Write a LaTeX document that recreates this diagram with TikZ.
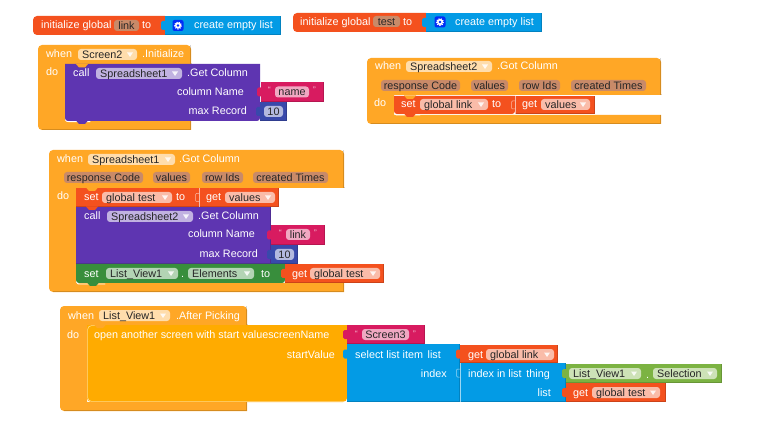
\documentclass[tikz,border=0pt]{standalone}
\usepackage{fontspec}
\setmainfont{Liberation Sans}
\definecolor{cRed}{HTML}{F4511E}
\definecolor{cBlue}{HTML}{039BE5}
\definecolor{cAmber}{HTML}{FFA726}
\definecolor{cOpen}{HTML}{FFAB00}
\definecolor{cPurple}{HTML}{5E35B1}
\definecolor{cPink}{HTML}{D81B60}
\definecolor{cNum}{HTML}{3949AB}
\definecolor{cGreen}{HTML}{388E3C}
\definecolor{cLime}{HTML}{7CB342}
\definecolor{cParam}{HTML}{C98A68}
\definecolor{cInk}{HTML}{262626}
\tikzset{
  lbl/.style={inner sep=0pt,text=white,font=\fontsize{10.8}{12}\selectfont},
  ink/.style={lbl,text=cInk},
  quot/.style={inner sep=0pt,text=white,text opacity=.8,font=\fontsize{8}{9}\selectfont},
  seam/.style={white,line width=.5pt,opacity=.6},
  edge/.style={black,line width=.8pt,opacity=.16},
}
% block: colour x1 y1 x2 y2
\newcommand\blk[5]{\fill[#1] (#2,#3) rectangle (#4,#5);
  \draw[edge] (#2,{#5-.4}) -- ({#4-.4},{#5-.4}) -- ({#4-.4},#3);}
% text: name anchor x ycentre text
\newcommand\tx[5]{\node[lbl,anchor=base #2] (#1) at (#3,{#4+4}) {#5};}
% quote mark: name x ycentre text
\newcommand\qt[4]{\node[quot,anchor=base west] (#1) at (#2,{#3+3}) {#4};}
% field pill: name x1 x2 yc text (with dropdown triangle)
\newcommand\pill[5]{%
  \fill[white,fill opacity=.62,rounded corners=3pt] (#2,{#4-5.5}) rectangle (#3,{#4+5.5});
  \node[ink,anchor=base west] (#1) at ({#2+4},{#4+4}) {#5};
  \fill[white,opacity=.85] ({#3-10},{#4-2}) -- ({#3-4},{#4-2}) -- ({#3-7},{#4+2.5}) -- cycle;}
% plain pill: name x1 x2 yc text
\newcommand\vpill[5]{%
  \fill[white,fill opacity=.62,rounded corners=3pt] (#2,{#4-5.5}) rectangle (#3,{#4+5.5});
  \node[ink,anchor=base] (#1) at ({(#2+#3)/2},{#4+4}) {#5};}
% parameter pill: name x1 x2 yc text
\newcommand\ppill[5]{%
  \fill[cParam,rounded corners=3pt] (#2,{#4-5.5}) rectangle (#3,{#4+5.5});
  \node[ink,anchor=base] (#1) at ({(#2+#3)/2},{#4+4}) {#5};}
% socket tab: x yc colour
\newcommand\tab[3]{\fill[#3,rounded corners=1.5pt] ({#1-4},{#2-4.5}) rectangle ({#1+1},{#2+4.5});}
% faint socket outline: x yc
\newcommand\fainttab[2]{\draw[seam,rounded corners=1pt] (#1,{#2-4}) -- ({#1-3.5},{#2-4}) -- ({#1-3.5},{#2+4}) -- (#1,{#2+4});}
% statement bump: xc y colour
\newcommand\bump[3]{\fill[#3] ({#1-6},#2) -- ({#1-3},{#2+3.5}) -- ({#1+3},{#2+3.5}) -- ({#1+6},#2) -- cycle;}
% gear: x y centre
\newcommand\gear[2]{%
  \fill[blue!70!cBlue,rounded corners=2pt] ({#1-5.5},{#2-5.5}) rectangle ({#1+5.5},{#2+5.5});
  \draw[white,line width=1.5pt,dash pattern=on 1.1pt off 1.1pt] (#1,#2) circle (3.2);
  \fill[white] (#1,#2) circle (3);
  \fill[blue!70!cBlue] (#1,#2) circle (1.3);}
% C-shaped event block: x1 y1 headerright headerbottom innerleft bandtop bandbottom
\newcommand\cblock[7]{\fill[cAmber,rounded corners=4pt] (#1,#2) -- (#3,#2) [sharp corners] -- (#3,#4) -- (#5,#4) -- (#5,#6) -- (#3,#6) -- (#3,#7) [rounded corners=4pt] -- (#1,#7) -- cycle;
  \draw[edge] ({#1+4},{#7-.4}) -- ({#3-.4},{#7-.4}) -- ({#3-.4},#6);
  \draw[edge] (#3,{#4-.4}) -- ({#3-.4},{#4-.4}) -- ({#3-.4},#2);}
% inner highlight at the foot of a do-block
\newcommand\glint[3]{\draw[white,line width=.9pt,line cap=round] (#1,{#3-4}) .. controls (#1,#3) and (#1,#3) .. ({#1+4},#3) -- (#2,#3);}
\begin{document}
\begin{tikzpicture}[x=1pt,y=-1pt]
\useasboundingbox (0,0) rectangle (778,427);
\fill[white] (0,0) rectangle (778,427);

% --- initialize link
\fill[cRed,rounded corners=4pt] (165,16) -- (33,16) -- (33,35) -- (165,35) [sharp corners] -- cycle;
\fill[cRed] (160,16) rectangle (165,35);
\blk{cBlue}{165}{16}{281}{35}
\tab{165}{25.5}{cBlue}
\tx{a1}{west}{41}{25}{initialize global}
\ppill{a2}{114}{139}{25.5}{link}
\tx{a3}{west}{142}{25}{to}
\gear{178}{25.5}
\tx{a4}{west}{194}{25}{create empty list}

% --- initialize test
\fill[cRed,rounded corners=4pt] (426,13) -- (293,13) -- (293,32) -- (426,32) [sharp corners] -- cycle;
\fill[cRed] (420,13) rectangle (426,32);
\blk{cBlue}{426}{13}{542}{32}
\tab{426}{22.5}{cBlue}
\tx{b1}{west}{300}{21.5}{initialize global}
\ppill{b2}{373}{400}{21.5}{test}
\tx{b3}{west}{403}{21.5}{to}
\gear{440}{22}
\tx{b4}{west}{455}{21.5}{create empty list}

% --- when Screen2
\cblock{38}{45}{191}{64}{65}{121}{130}
\glint{66}{90}{121.6}
\fill[cPurple,rounded corners=3pt] (65,64) -- (65,121) -- (260,121) [sharp corners] -- (260,64) -- cycle;
\fill[cPurple] (65,64) rectangle (260,75);
\bump{82}{64}{cAmber}
\bump{82}{120.5}{cPurple}
\blk{cPink}{261}{82}{324}{102}
\tab{261}{92}{cPink}
\blk{cNum}{260}{102}{287}{121}
\tab{260}{111.5}{cNum}
\tx{c1}{west}{46}{54}{when}
\pill{c2}{78}{137}{54.5}{Screen2}
\tx{c3}{west}{142}{54}{.Initialize}
\tx{c4}{west}{46}{72}{do}
\tx{c5}{west}{73}{73}{call}
\pill{c6}{96}{182}{73.5}{Spreadsheet1}
\tx{c7}{west}{187}{73}{.Get Column}
\tx{c8}{east}{244}{92}{column Name}
\tx{c9}{east}{247}{111}{max Record}
\qt{c10}{268}{90}{“}
\vpill{c11}{275}{309}{92}{name}
\qt{c12}{313}{90}{”}
\vpill{c13}{264}{283}{111.5}{10}

% --- when Spreadsheet2
\cblock{367}{58}{661}{95}{394}{115}{124}
\glint{395}{420}{115}
\fill[cRed,rounded corners=3pt] (394,96) -- (394,114) -- (515,114) [sharp corners] -- (515,96) -- cycle;
\blk{cRed}{515}{96}{595}{114}
\fill[cRed] (394,96) rectangle (402,104);
\bump{410}{113.5}{cRed}
\bump{410}{95.5}{cAmber}
\draw[seam] (515.5,96) -- (515.5,114);
\fainttab{515}{105}
\tx{d1}{west}{375}{66}{when}
\pill{d2}{406}{492}{66.5}{Spreadsheet2}
\tx{d3}{west}{497}{66}{.Got Column}
\ppill{d4}{381}{460}{85.5}{response Code}
\ppill{d5}{471}{508}{85.5}{values}
\ppill{d6}{519}{560}{85.5}{row Ids}
\ppill{d7}{571}{646}{85.5}{created Times}
\tx{d8}{west}{374}{103}{do}
\tx{d9}{west}{401}{104}{set}
\pill{d10}{420}{488}{104.5}{global link}
\tx{d11}{west}{492}{104}{to}
\tx{d12}{west}{522}{104}{get}
\pill{d13}{541}{590}{104.5}{values}

% --- when Spreadsheet1
\cblock{49}{150}{344}{188}{76}{283}{292}
\glint{77}{105}{284}
\blk{cPurple}{76}{207}{271}{264}
\blk{cRed}{76}{188}{279}{207}
\bump{92}{187.5}{cAmber}
\bump{92}{206.5}{cRed}
\blk{cPink}{271}{225}{325}{245}
\tab{271}{235}{cPink}
\blk{cNum}{271}{245}{298}{264}
\tab{271}{254.5}{cNum}
\fill[cGreen,rounded corners=3pt] (76,264) -- (76,283) -- (285,283) [sharp corners] -- (285,264) -- cycle;
\fill[cGreen] (76,264) rectangle (86,272);
\bump{93}{282.5}{cGreen}
\blk{cRed}{285}{264}{384}{283}
\tab{285}{273.5}{cRed}
\draw[seam] (199.5,188) -- (199.5,207);
\fainttab{199}{197.5}
\tx{e1}{west}{57}{159}{when}
\pill{e2}{88}{175}{159.5}{Spreadsheet1}
\tx{e3}{west}{179}{159}{.Got Column}
\ppill{e4}{64}{143}{177.5}{response Code}
\ppill{e5}{153}{190}{177.5}{values}
\ppill{e6}{202}{243}{177.5}{row Ids}
\ppill{e7}{253}{328}{177.5}{created Times}
\tx{e8}{west}{57}{196}{do}
\tx{e9}{west}{84}{197}{set}
\pill{e10}{102}{172}{197.5}{global test}
\tx{e11}{west}{176}{197}{to}
\tx{e12}{west}{206}{197}{get}
\pill{e13}{225}{275}{197.5}{values}
\tx{e14}{west}{84}{216}{call}
\pill{e15}{107}{193}{216.5}{Spreadsheet2}
\tx{e16}{west}{198}{216}{.Get Column}
\tx{e17}{east}{255}{234}{column Name}
\tx{e18}{east}{258}{254}{max Record}
\qt{e19}{279}{233}{“}
\vpill{e20}{286}{310}{234.5}{link}
\qt{e21}{314}{233}{”}
\vpill{e22}{275}{294}{254.5}{10}
\tx{e23}{west}{84}{273}{set}
\pill{e24}{106}{178}{273.5}{List\_View1}
\tx{e25}{west}{181}{273}{.}
\pill{e26}{188}{254}{273.5}{Elements}
\tx{e27}{west}{261}{273}{to}
\tx{e28}{west}{292}{273}{get}
\pill{e29}{310}{380}{273.5}{global test}

% --- when List_View1
\cblock{60}{306}{247}{325}{87}{402}{411}
\fill[cOpen,rounded corners=4pt] (87,325) -- (87,402) -- (347,402) [sharp corners] -- (347,325) -- cycle;
\draw[white,line width=.6pt,opacity=.55,rounded corners=4pt] (100,325.6) -- (87.6,325.6) -- (87.6,401.4) -- (347,401.4);
\bump{100}{324.5}{cAmber}
\blk{cPink}{347}{325}{425}{344}
\tab{347}{334.5}{cPink}
\blk{cBlue}{347}{344}{460}{402}
\tab{347}{354}{cBlue}
\blk{cRed}{460}{345}{558}{363}
\tab{460}{354}{cRed}
\blk{cBlue}{460}{363}{566}{402}
\draw[seam] (460.5,363) -- (460.5,402);
\fainttab{460}{373}
\blk{cLime}{566}{364}{722}{383}
\tab{566}{373.5}{cLime}
\blk{cRed}{566}{383}{666}{402}
\tab{566}{392.5}{cRed}
\tx{f1}{west}{68}{315}{when}
\pill{f2}{99}{170}{315.5}{List\_View1}
\tx{f3}{west}{176}{315}{.After Picking}
\tx{f4}{west}{67}{334}{do}
\tx{f5}{west}{94}{334}{open another screen with start valuescreenName}
\tx{f6}{east}{335}{354}{startValue}
\qt{f7}{355}{333}{“}
\vpill{f8}{362}{409}{334.5}{Screen3}
\qt{f9}{413}{333}{”}
\tx{f10}{west}{355}{354}{select list item}
\tx{f11}{east}{441}{354}{list}
\tx{f12}{east}{447}{373}{index}
\tx{f13}{west}{468}{354}{get}
\pill{f14}{486}{554}{354.5}{global link}
\tx{f15}{west}{468}{373}{index in list}
\tx{f16}{east}{550}{373}{thing}
\tx{f17}{east}{551}{392}{list}
\pill{f18}{569}{641}{373.5}{List\_View1}
\tx{f19}{west}{646}{374}{.}
\pill{f20}{653}{717}{373.5}{Selection}
\tx{f21}{west}{573}{392}{get}
\pill{f22}{592}{660}{392.5}{global test}
\end{tikzpicture}
\end{document}
